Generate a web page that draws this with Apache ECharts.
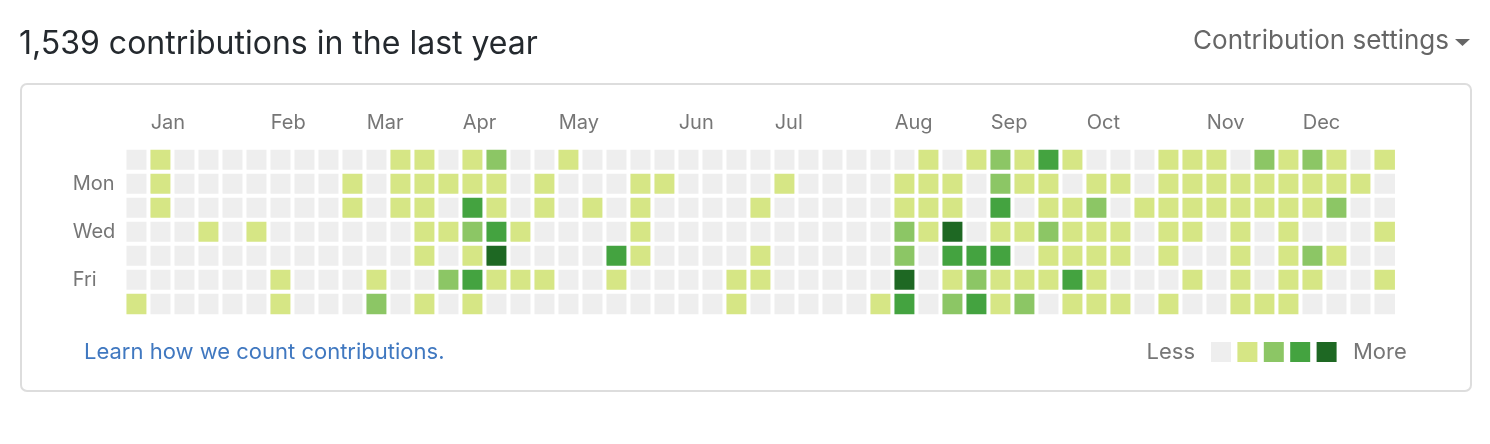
<!DOCTYPE html>
<html>
<head>
<meta charset="utf-8">
<script src="https://cdn.jsdelivr.net/npm/echarts@6/dist/echarts.min.js"></script>
<style>
  html, body { margin: 0; padding: 0; background: #fff; }
  #chart { width: 1490px; height: 444px; }
</style>
</head>
<body>
<div id="chart"></div>
<script>
// Contribution level (0-4) per day row, one value per week column (53 weeks)
const sun = [0,1,0,0,0,0,0,0,0,0,0,1,1,0,1,2,0,0,1,0,0,0,0,0,0,0,0,0,0,0,0,0,0,1,0,1,2,1,3,1,0,0,0,1,1,1,0,2,1,2,1,0,1];
const mon = [0,1,0,0,0,0,0,0,0,1,0,1,1,1,1,1,0,1,0,0,0,1,1,0,0,0,0,1,0,0,0,0,1,1,1,0,2,1,1,0,1,1,0,1,1,1,1,1,1,1,1,1,0];
const tue = [0,1,0,0,0,0,0,0,0,1,0,1,1,0,3,1,0,1,0,1,0,1,0,0,0,0,1,0,0,0,0,0,1,1,1,0,3,0,1,1,2,0,1,1,1,1,1,1,1,1,2,0,0];
const wed = [0,0,0,1,0,1,0,0,0,0,0,0,1,1,2,3,1,0,0,0,0,1,0,0,0,0,0,0,0,0,0,0,2,1,4,0,1,1,2,1,1,1,0,1,1,0,1,0,1,0,0,0,1];
const thu = [0,0,0,0,0,0,0,0,0,0,0,0,1,0,1,4,0,0,0,0,3,1,0,0,0,0,1,0,0,0,0,0,2,0,3,3,3,0,1,1,1,1,0,1,0,0,1,0,1,2,1,0,0];
const fri = [0,0,0,0,0,0,1,0,0,0,1,0,0,2,3,1,1,1,0,0,1,0,0,0,0,1,1,0,0,0,0,0,4,0,1,2,1,1,1,3,1,0,0,0,1,0,1,0,1,1,0,0,1];
const sat = [1,0,0,0,0,0,1,0,0,0,2,0,1,0,1,0,0,0,0,0,0,0,0,0,0,1,0,0,0,0,0,1,3,0,2,3,1,2,0,1,1,1,0,1,0,0,1,1,1,0,0,0,0];

const dayRows = [sun, mon, tue, wed, thu, fri, sat];
const dayLabels = ['', 'Mon', '', 'Wed', '', 'Fri', ''];
const monthLabels = ['Jan','Feb','Mar','Apr','May','Jun','Jul','Aug','Sep','Oct','Nov','Dec'];
const monthStartWeek = [1, 6, 10, 14, 18, 23, 27, 32, 36, 40, 45, 49];
const levelColors = ['#eeeeee', '#d6e685', '#8cc665', '#44a340', '#1e6823'];
const legendEnds = ['Less', 'More'];

const weekCount = sun.length;
const weeks = Array.from({length: weekCount}, (_, i) => String(i));
const data = [];
dayRows.forEach((row, d) => row.forEach((v, w) => data.push([w, d, v])));

const FONT = 'Inter';
const chart = echarts.init(document.getElementById('chart'), null, {renderer: 'canvas'});
chart.setOption({
  animation: false,
  backgroundColor: '#ffffff',
  textStyle: { fontFamily: FONT },
  title: {
    text: '1,539 contributions in the last year',
    left: 14, top: 23,
    textStyle: { fontSize: 32, fontWeight: 'normal', color: '#24292e', fontFamily: FONT }
  },
  grid: { left: 124.7, top: 148, width: 24 * weekCount, height: 168 },
  xAxis: [
    {
      type: 'category', data: weeks, position: 'top',
      axisLine: { show: false }, axisTick: { show: false }, axisLabel: { show: false },
      splitLine: { show: false }
    },
    {
      type: 'value', min: 0, max: weekCount, interval: 1, position: 'top',
      axisLine: { show: false }, axisTick: { show: false }, splitLine: { show: false },
      axisLabel: {
        margin: 25, align: 'left', verticalAlign: 'middle', padding: [0, 0, 0, 2],
        color: '#767676', fontSize: 20, fontFamily: FONT,
        formatter: v => { const i = monthStartWeek.indexOf(v); return i >= 0 ? monthLabels[i] : ''; }
      }
    }
  ],
  yAxis: {
    type: 'category', data: dayLabels, inverse: true,
    axisLine: { show: false }, axisTick: { show: false }, splitLine: { show: false },
    axisLabel: { interval: 0, align: 'left', margin: 52, color: '#767676', fontSize: 20, fontFamily: FONT }
  },
  visualMap: {
    type: 'piecewise', seriesIndex: 0, orient: 'horizontal',
    pieces: levelColors.map((c, i) => ({ value: i, color: c })),
    showLabel: false, selectedMode: false,
    itemSymbol: 'rect', itemWidth: 20, itemHeight: 20, itemGap: 6.4,
    left: 1211, top: 342, padding: 0
  },
  series: [{
    type: 'heatmap', data: data,
    itemStyle: { borderColor: '#ffffff', borderWidth: 4 },
    emphasis: { disabled: true }
  }],
  graphic: [
    { type: 'rect', silent: true, shape: { x: 21, y: 84, width: 1450, height: 307, r: 6 },
      style: { fill: 'none', stroke: '#dddddd', lineWidth: 2 } },
    { type: 'text', x: 1449, y: 41, style: { text: 'Contribution settings', align: 'right', verticalAlign: 'middle',
      fill: '#666666', fontSize: 26, fontFamily: FONT } },
    { type: 'polygon', shape: { points: [[1455, 39], [1470, 39], [1462.5, 46]] }, style: { fill: '#666666' } },
    { type: 'text', x: 84, y: 352, style: { text: 'Learn how we count contributions.', verticalAlign: 'middle',
      fill: '#4078c0', fontSize: 22, fontFamily: FONT } },
    { type: 'text', x: 1195, y: 352, style: { text: legendEnds[0], align: 'right', verticalAlign: 'middle',
      fill: '#767676', fontSize: 22, fontFamily: FONT } },
    { type: 'text', x: 1353, y: 352, style: { text: legendEnds[1], align: 'left', verticalAlign: 'middle',
      fill: '#767676', fontSize: 22, fontFamily: FONT } }
  ]
});
</script>
</body>
</html>
